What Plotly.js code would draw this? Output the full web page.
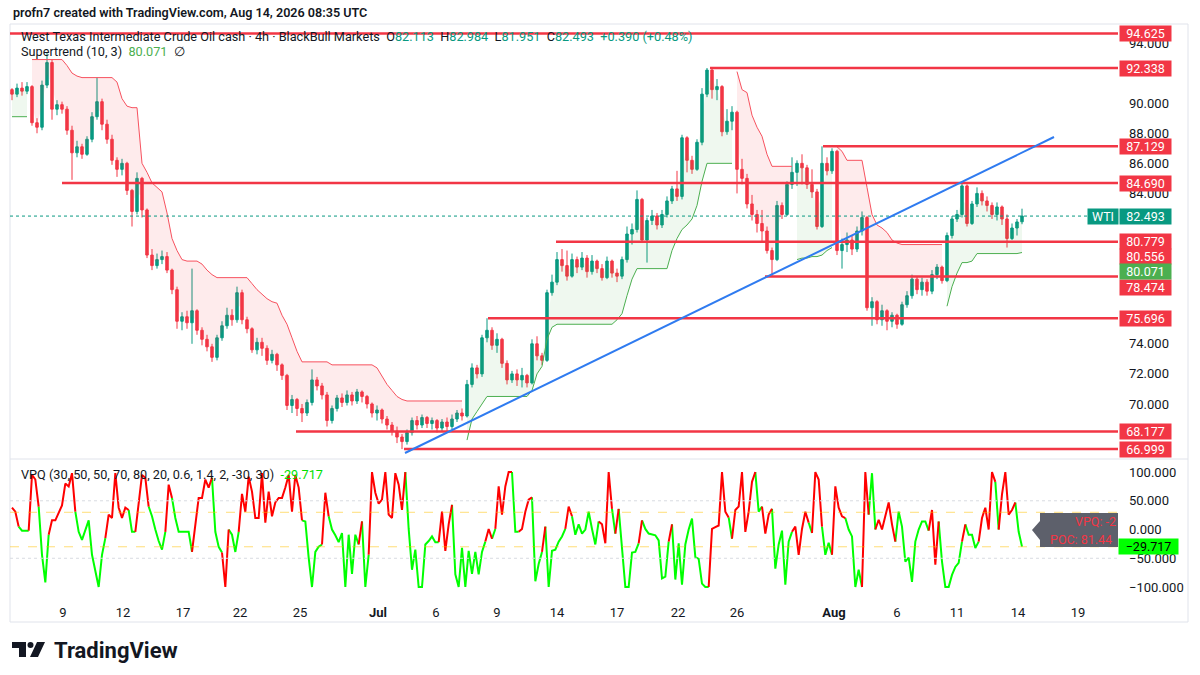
<!DOCTYPE html>
<html>
<head>
<meta charset="utf-8">
<script src="https://cdn.plot.ly/plotly-3.0.1.min.js"></script>
<style>
html, body { margin: 0; padding: 0; background: #fff; }
#chart { width: 1200px; height: 675px; }
</style>
</head>
<body>
<div id="chart"></div>
<script>
// WTI cash, 4h bars, Jun 8 -> Aug 14
const firstOpen = 90.9;
const lastBarOpen = 82.113;
const closes = [
  90.6, 91.0, 90.8, 91.1, 88.7, 88.4, 91.2, 92.7, 89.6, 89.9,
  89.6, 88.2, 86.7, 87.1, 86.6, 87.6, 89.1, 90.1, 88.6, 87.6,
  86.2, 85.6, 86.0, 84.2, 82.8, 85.0, 82.9, 79.9, 79.2, 79.6,
  79.8, 78.9, 77.6, 75.5, 75.8, 75.4, 76.2, 74.9, 74.3, 73.8,
  73.1, 74.4, 75.2, 75.9, 75.6, 77.4, 75.6, 75.0, 73.6, 74.1,
  73.7, 72.9, 73.3, 72.6, 71.9, 69.9, 70.3, 69.7, 69.4, 70.1,
  71.6, 71.2, 70.6, 68.9, 69.7, 70.4, 70.1, 70.6, 70.2, 70.8,
  70.5, 70.0, 69.4, 69.6, 69.0, 68.6, 68.2, 67.8, 67.5, 68.1,
  68.9, 68.6, 69.1, 68.7, 68.9, 68.4, 68.8, 68.5, 69.0, 69.4,
  69.2, 71.3, 72.4, 72.0, 74.4, 74.9, 73.9, 74.3, 72.7, 71.6,
  72.0, 71.6, 71.9, 71.4, 74.0, 73.2, 72.9, 77.4, 78.1, 79.6,
  79.2, 78.5, 79.6, 79.1, 79.7, 78.8, 79.5, 79.0, 78.4, 79.5,
  78.7, 78.5, 79.6, 81.3, 81.6, 83.6, 80.9, 82.2, 82.5, 81.9,
  82.6, 83.5, 84.3, 83.8, 87.7, 86.2, 85.6, 87.4, 90.6, 92.2,
  90.9, 91.1, 88.1, 88.8, 89.4, 85.6, 85.0, 83.3, 82.6, 82.0,
  81.5, 80.2, 79.6, 83.2, 82.6, 84.6, 85.4, 86.0, 85.7, 84.6,
  84.1, 81.8, 86.0, 85.5, 86.8, 80.2, 80.6, 80.9, 80.3, 81.5,
  82.4, 76.4, 76.8, 75.6, 76.2, 75.5, 75.9, 75.3, 76.6, 77.2,
  78.3, 77.6, 78.1, 77.5, 78.6, 79.1, 78.2, 81.2, 82.3, 82.6,
  84.5, 82.0, 83.3, 84.0, 83.5, 83.2, 82.6, 83.1, 82.3, 81.0,
  81.7, 82.103, 82.493
];
const highs = [
  91.0, 91.3, 91.4, 91.4, 91.2, 89.0, 91.5, 93.4, 92.9, 90.2,
  90.1, 89.8, 88.5, 87.5, 87.3, 87.8, 89.4, 91.7, 90.3, 88.9,
  87.9, 86.4, 86.3, 86.1, 84.3, 85.4, 85.1, 83.0, 80.3, 80.0,
  80.2, 80.1, 79.0, 77.8, 76.1, 76.2, 79.0, 76.3, 75.1, 74.6,
  74.0, 74.6, 75.5, 76.4, 76.3, 77.8, 77.6, 75.8, 75.1, 74.4,
  74.4, 73.9, 73.6, 73.4, 72.7, 72.0, 70.6, 70.4, 70.0, 70.3,
  72.3, 71.8, 71.4, 70.8, 69.9, 70.6, 70.7, 70.9, 70.8, 71.0,
  70.9, 70.6, 70.1, 69.9, 69.7, 69.2, 68.8, 68.5, 68.0, 68.3,
  69.1, 69.2, 69.3, 69.2, 69.1, 69.0, 69.0, 69.1, 69.3, 69.6,
  69.7, 71.6, 72.7, 72.6, 74.6, 75.7, 75.1, 74.7, 74.4, 72.9,
  72.2, 72.3, 72.4, 72.0, 74.3, 74.5, 73.4, 77.6, 78.6, 80.1,
  80.3, 80.2, 80.0, 79.8, 80.1, 79.9, 79.9, 79.6, 79.3, 79.8,
  79.6, 79.0, 79.8, 81.8, 82.0, 84.2, 83.7, 82.4, 82.9, 82.7,
  82.9, 83.8, 84.5, 85.5, 87.9, 87.8, 86.5, 87.6, 91.0, 92.338,
  92.3, 91.6, 91.2, 89.6, 89.8, 89.5, 86.3, 85.3, 83.9, 82.9,
  82.9, 81.8, 80.4, 83.5, 83.4, 84.8, 86.4, 86.2, 86.6, 85.9,
  85.6, 84.3, 87.129, 86.4, 87.0, 86.9, 81.0, 81.4, 81.2, 81.8,
  82.8, 82.5, 77.1, 76.9, 76.6, 76.3, 76.1, 76.0, 76.8, 77.5,
  78.6, 78.5, 78.4, 78.3, 78.9, 79.3, 79.2, 81.4, 82.5, 82.9,
  84.69, 84.6, 83.5, 84.4, 84.2, 83.8, 83.4, 83.4, 83.2, 82.6,
  82.0, 82.3, 82.984
];
const lows = [
  90.2, 90.4, 90.5, 90.6, 88.5, 88.0, 88.2, 91.0, 88.9, 89.2,
  89.3, 87.9, 84.9, 86.4, 86.3, 86.5, 87.4, 88.9, 88.2, 87.3,
  85.9, 85.1, 85.2, 83.9, 81.8, 82.6, 82.4, 79.7, 78.9, 79.0,
  79.3, 78.7, 77.3, 75.0, 74.9, 75.0, 74.0, 74.6, 73.9, 73.5,
  72.8, 72.9, 74.2, 75.0, 75.2, 75.4, 75.3, 74.7, 73.4, 73.3,
  73.2, 72.6, 72.7, 72.2, 71.6, 69.6, 69.4, 69.2, 68.8, 69.2,
  69.9, 70.9, 70.3, 68.5, 68.7, 69.5, 69.8, 69.9, 69.9, 70.0,
  70.1, 69.7, 69.1, 68.9, 68.7, 68.3, 67.9, 67.4, 66.999, 67.3,
  67.9, 68.3, 68.4, 68.4, 68.3, 68.1, 68.2, 68.2, 68.3, 68.8,
  68.9, 69.1, 71.1, 71.7, 71.8, 74.1, 73.6, 73.4, 72.4, 71.3,
  71.4, 71.2, 71.1, 71.1, 71.3, 72.9, 72.6, 72.8, 77.2, 77.9,
  78.8, 78.2, 78.4, 78.7, 78.9, 78.4, 78.6, 78.7, 78.2, 78.3,
  78.4, 78.1, 78.3, 79.4, 80.6, 81.4, 80.7, 79.4, 81.9, 81.6,
  81.7, 82.4, 83.3, 83.5, 83.6, 85.4, 85.3, 85.5, 87.2, 90.4,
  90.3, 90.2, 87.8, 87.9, 88.2, 84.0, 84.6, 83.0, 82.2, 81.4,
  80.8, 80.0, 78.474, 79.5, 82.3, 82.5, 84.3, 84.5, 84.6, 84.3,
  83.7, 81.6, 81.7, 85.2, 85.3, 79.9, 79.0, 80.1, 79.9, 80.1,
  81.2, 76.2, 75.2, 75.3, 75.2, 74.9, 75.1, 75.0, 75.2, 76.4,
  77.0, 77.3, 77.2, 77.2, 77.3, 78.3, 78.0, 78.1, 81.0, 82.1,
  82.4, 81.8, 81.9, 83.1, 83.2, 82.8, 82.3, 82.2, 81.9, 80.4,
  80.9, 81.2, 81.951
];

// Supertrend (10, 3) line, one value per bar
const stLevel = [
  89.1, 89.1, 89.1, 89.1, 92.9, 92.9, 92.9, 92.9, 92.9, 92.9,
  92.9, 92.5, 92.0, 91.8, 91.7, 91.7, 91.7, 91.7, 91.7, 91.7,
  91.7, 91.4, 90.3, 89.8, 89.7, 89.7, 86.0, 85.4, 84.7, 84.4,
  84.1, 82.7, 81.0, 80.2, 79.6, 79.5, 79.5, 79.5, 79.3, 78.9,
  78.6, 78.4, 78.4, 78.4, 78.4, 78.4, 78.4, 78.4, 78.0, 77.6,
  77.3, 77.0, 76.8, 76.7, 75.9, 75.3, 74.4, 73.5, 72.8, 72.8,
  72.8, 72.8, 72.8, 72.8, 72.6, 72.6, 72.6, 72.6, 72.6, 72.6,
  72.6, 72.6, 72.6, 72.4, 71.8, 71.3, 70.9, 70.5, 70.3, 70.2,
  70.2, 70.2, 70.2, 70.2, 70.2, 70.2, 70.2, 70.2, 70.2, 70.2,
  70.2, 67.6, 69.0, 69.5, 70.0, 70.5, 70.5, 70.5, 70.5, 70.5,
  70.5, 70.5, 70.5, 70.5, 70.9, 72.0, 72.5, 74.3, 75.1, 75.3,
  75.3, 75.3, 75.3, 75.3, 75.3, 75.3, 75.3, 75.3, 75.3, 75.3,
  75.3, 75.6, 76.0, 77.2, 78.3, 79.0, 79.0, 79.0, 79.0, 79.0,
  79.0, 79.0, 80.2, 81.0, 81.6, 81.9, 82.3, 83.2, 84.8, 86.0,
  86.0, 86.0, 86.0, 86.0, 86.0, 92.1, 90.9, 90.7, 89.2, 88.4,
  87.8, 86.6, 85.8, 85.8, 85.8, 85.8, 85.8, 79.6, 79.7, 79.7,
  79.8, 79.8, 79.9, 80.2, 80.4, 87.1, 86.8, 86.2, 86.2, 86.2,
  86.2, 84.4, 82.6, 81.9, 81.7, 81.4, 80.9, 80.7, 80.6, 80.6,
  80.6, 80.6, 80.6, 80.6, 80.6, 80.6, 80.6, 76.5, 77.8, 78.7,
  79.4, 79.4, 79.5, 80.0, 80.0, 80.0, 80.0, 80.0, 80.0, 80.0,
  80.0, 80.0, 80.071
];
// bars where the trend flips, first run is an up-trend
const stFlips = [0, 4, 91, 145, 157, 165, 187];

// VPQ oscillator, sampled on the finer 4h grid
const vpq = [
  38, 31, 5, -2, -2, -2, 95, 87, 40, -44,
  -92, -9, 16, 16, 30, 42, 80, 75, 98, 31,
  -4, -18, 0, 16, -44, -72, -100, -44, -15, 26,
  20, 98, 38, 20, 38, 34, -4, -4, 45, 95,
  90, 40, 23, 0, -20, -35, -4, 78, 55, 20,
  -4, -4, -4, -4, -39, 10, 55, 55, 87, 73,
  90, -4, -30, -40, -100, 0, -9, -39, -4, 62,
  31, 92, 66, 20, 20, 98, 12, 66, 23, 47,
  55, 55, 73, 95, 31, 95, 73, 16, 14, -49,
  -100, -39, -30, -26, 64, 23, 0, -10, -22, -6,
  -100, -9, -77, -9, -26, 14, -100, -44, 100, 64,
  45, 52, 100, 26, 20, 98, 78, 34, 100, 1,
  -70, -35, -100, -100, -26, -20, -12, -22, -22, 31,
  -37, 9, 43, -78, -100, -32, -100, -37, -77, -39,
  -78, -39, -21, 1, -16, 1, 75, 26, 75, 100,
  100, -4, -4, 1, 31, 52, 56, -90, -60, -39,
  5, -100, -37, -35, -21, -12, 1, 40, 23, -9,
  9, -7, 0, 31, 1, -26, 14, 9, -24, 100,
  36, -7, 36, -39, -100, -100, -40, -39, -24, 16,
  1, -7, -9, -10, -19, -85, -82, -21, 9, -87,
  -24, -96, -26, 0, 19, -48, -51, -94, -100, -100,
  1, 4, 7, 100, 31, 21, -16, 34, 40, 100,
  -4, 31, 83, 100, 31, 40, -7, 26, 36, -68,
  -26, -2, -96, -21, -4, 5, -44, 1, 31, 12,
  -6, 100, 87, 5, -44, -23, -44, 75, 38, 23,
  20, 0, -12, -100, -70, -100, 100, 26, 98, 0,
  17, 0, 25, 47, 9, -21, 31, 5, -56, -49,
  -91, -21, 0, 14, 14, -2, 34, -61, 14, -56,
  -100, -100, -79, -65, -58, -21, 9, -9, -9, -32,
  -21, 20, 38, 0, 100, 83, 0, 61, 100, 26,
  34, 47, -4, -29.717
];
// colour of each VPQ segment as runs: [count, 'r' | 'g']
const vpqColorRuns = [
  [2,'r'],[3,'g'],[3,'r'],[3,'g'],[8,'r'],[9,'g'],[7,'r'],[2,'g'],[4,'r'],[5,'g'],
  [2,'r'],[6,'g'],[6,'r'],[3,'g'],[2,'r'],[3,'g'],[19,'r'],[6,'g'],[2,'r'],[9,'g'],
  [1,'r'],[2,'g'],[11,'r'],[10,'g'],[4,'r'],[10,'g'],[2,'r'],[1,'g'],[5,'r'],[2,'g'],
  [4,'r'],[3,'g'],[1,'r'],[6,'g'],[2,'r'],[8,'g'],[4,'r'],[1,'g'],[1,'r'],[6,'g'],
  [1,'r'],[8,'g'],[1,'r'],[11,'g'],[6,'r'],[1,'g'],[7,'r'],[2,'g'],[3,'r'],[6,'g'],
  [5,'r'],[1,'g'],[3,'r'],[3,'g'],[4,'r'],[5,'g'],[2,'r'],[2,'g'],[6,'r'],[10,'g'],
  [3,'r'],[7,'g'],[1,'r'],[4,'g'],[5,'r'],[1,'g'],[5,'r'],[2,'g']
];

// drawn horizontal rays and the trend line
const levelPrices = [94.625, 92.338, 87.129, 84.690, 80.779, 78.474, 75.696, 68.177, 66.999];
const levelStartBar = [-0.4, 139.6, 162.2, 10, 108.8, 150.6, 95.2, 56.8, 78.4];
const extraLabel = 80.556;
const trendBars = [78.6, 208.4];
const trendPrices = [66.74, 87.75];

// price ticks that are not covered by the label boxes
const priceTicks = [70, 72, 74, 84, 86, 88, 90, 94];

// time axis
const tickBars = [10.2, 22.2, 34.2, 45.6, 57.6, 73.2, 84.8, 97, 109, 121, 133.2, 145, 164.4, 177, 189, 201.2, 213.2];
const tickText = ['9', '12', '17', '22', '25', '<b>Jul</b>', '6', '9', '14', '17', '22', '26', '<b>Aug</b>', '6', '11', '14', '19'];

// ---------------------------------------------------------------
const FONT = 'Roboto, "Noto Sans", sans-serif';
const UP = '#089981', DOWN = '#f23645';
const N = closes.length;
const X_START = -0.4, X_END = 221.2;

// pixel -> paper helpers (plot area is x 10..1118, y 25..598)
const px = x => (x - 10) / 1108;
const py = y => (598 - y) / 573;
const pathOf = pts => pts.map((p, k) => (k ? 'L' : 'M') + px(p[0]).toFixed(5) + ',' + py(p[1]).toFixed(5)).join(' ') + ' Z';

const bars = closes.map((c, i) => i);
const opens = [firstOpen].concat(closes.slice(0, -1));
opens[N - 1] = lastBarOpen;
const bodyMid = closes.map((c, i) => (c + opens[i]) / 2);

const traces = [];

// supertrend: fill between body middle and the trend line, one pair per run
stFlips.forEach((start, k) => {
  const end = k + 1 < stFlips.length ? stFlips[k + 1] - 1 : N - 1;
  const up = k % 2 === 0;
  const xs = [], mid = [], st = [];
  for (let i = start; i <= end; i++) {
    xs.push(i); mid.push(bodyMid[i]); st.push(stLevel[i]);
  }
  traces.push({
    type: 'scatter', mode: 'lines', x: xs, y: mid,
    line: {width: 0, color: 'rgba(0,0,0,0)'}, hoverinfo: 'skip'
  });
  traces.push({
    type: 'scatter', mode: 'lines', x: xs, y: st, fill: 'tonexty',
    fillcolor: up ? 'rgba(76,175,80,0.09)' : 'rgba(242,54,69,0.10)',
    line: {color: up ? '#4caf50' : '#f7525f', width: 1}, hoverinfo: 'skip'
  });
});

traces.push({
  type: 'candlestick', x: bars, open: opens, high: highs, low: lows, close: closes,
  increasing: {line: {color: UP, width: 1}, fillcolor: UP},
  decreasing: {line: {color: DOWN, width: 1}, fillcolor: DOWN},
  whiskerwidth: 0, hoverinfo: 'skip'
});

// VPQ: split the line into red and green pieces
const segColor = [];
vpqColorRuns.forEach(([n, c]) => { for (let k = 0; k < n; k++) segColor.push(c); });
const vpqStep = (N - 1) / (vpq.length - 1);
function vpqTrace(c, color) {
  const xs = [], ys = [];
  let last = -2;
  segColor.forEach((s, j) => {
    if (s !== c) return;
    if (last !== j) {
      if (xs.length) { xs.push(null); ys.push(null); }
      xs.push(j * vpqStep); ys.push(vpq[j]);
    }
    xs.push((j + 1) * vpqStep); ys.push(vpq[j + 1]);
    last = j + 1;
  });
  return {
    type: 'scatter', mode: 'lines', x: xs, y: ys, yaxis: 'y2',
    line: {color: color, width: 2}, connectgaps: false, hoverinfo: 'skip'
  };
}
traces.push(vpqTrace('g', '#00ff00'));
traces.push(vpqTrace('r', '#ff0000'));

// ---------------------------------------------------------------
const shapes = [];
// chart frame and pane separator
shapes.push({type: 'rect', xref: 'paper', yref: 'paper', x0: px(10), x1: px(1188), y0: py(24), y1: py(622),
  line: {color: '#e0e3eb', width: 1}, layer: 'below'});
shapes.push({type: 'line', xref: 'paper', yref: 'paper', x0: px(10), x1: px(1188), y0: py(459), y1: py(459),
  line: {color: '#e0e3eb', width: 1}});

// last price line
shapes.push({type: 'line', xref: 'paper', yref: 'y', x0: 0, x1: 1, y0: closes[N - 1], y1: closes[N - 1],
  line: {color: '#089981', width: 1, dash: 'dot'}});

levelPrices.forEach((p, k) => {
  shapes.push({type: 'line', xref: 'x', yref: 'y', x0: levelStartBar[k], x1: X_END, y0: p, y1: p,
    line: {color: '#f23645', width: 2.5}, layer: 'above'});
});
shapes.push({type: 'line', xref: 'x', yref: 'y', x0: trendBars[0], x1: trendBars[1], y0: trendPrices[0], y1: trendPrices[1],
  line: {color: '#2f7bf0', width: 2}, layer: 'above'});

// VPQ guide lines
[30, -30].forEach(v => shapes.push({type: 'line', xref: 'paper', yref: 'y2', x0: 0, x1: 1, y0: v, y1: v,
  line: {color: 'rgba(255,193,7,0.55)', width: 1, dash: 'dash'}}));
[50, -50].forEach(v => shapes.push({type: 'line', xref: 'paper', yref: 'y2', x0: 0, x1: 1, y0: v, y1: v,
  line: {color: '#d9dbe1', width: 1, dash: 'dot'}}));

// VPQ data-window bubble
shapes.push({type: 'path', xref: 'paper', yref: 'paper',
  path: pathOf([[1040, 513], [1118, 513], [1118, 547], [1040, 547], [1040, 540], [1032, 530], [1040, 521]]),
  fillcolor: '#5d606b', line: {width: 0}});

// TradingView mark
shapes.push({type: 'path', xref: 'paper', yref: 'paper',
  path: pathOf([[12, 642], [26, 642], [26, 657], [19, 657], [19, 648], [12, 648]]),
  fillcolor: '#131722', line: {width: 0}});
shapes.push({type: 'circle', xref: 'paper', yref: 'paper', x0: px(27.5), x1: px(33.5), y0: py(642), y1: py(648),
  fillcolor: '#131722', line: {width: 0}});
shapes.push({type: 'path', xref: 'paper', yref: 'paper',
  path: pathOf([[37, 642], [45, 642], [38, 657], [30, 657]]),
  fillcolor: '#131722', line: {width: 0}});

// ---------------------------------------------------------------
const ann = [];
function text(x, y, t, size, extra) {
  ann.push(Object.assign({
    xref: 'paper', yref: 'paper', x: px(x), y: py(y), text: t, showarrow: false,
    xanchor: 'left', yanchor: 'middle',
    font: {family: FONT, size: size, color: '#131722'}
  }, extra || {}));
}
const teal = s => '<span style="color:#089981">' + s + '</span>';
const sp = '\u00a0\u00a0';
const last = N - 1;
const chg = closes[last] - closes[last - 1];

text(11, 13, 'profn7 created with TradingView.com, Aug 14, 2026 08:35 UTC', 12.6, {font: {family: FONT, size: 12.6, color: '#131722', weight: 600}});
text(19, 36, 'West Texas Intermediate Crude Oil cash · 4h · BlackBull Markets' + sp +
  'O' + teal(opens[last].toFixed(3)) + sp + 'H' + teal(highs[last].toFixed(3)) + sp +
  'L' + teal(lows[last].toFixed(3)) + sp + 'C' + teal(closes[last].toFixed(3)) + sp +
  teal('+' + chg.toFixed(3) + ' (+' + (chg / closes[last - 1] * 100).toFixed(2) + '%)'), 12.7);
text(19, 51, 'Supertrend (10, 3)' + sp + '<span style="color:#4caf50">' + stLevel[last].toFixed(3) + '</span>' + sp + '∅', 12.7);
text(19, 474, 'VPQ (30, 50, 50, 70, 80, 20, 0.6, 1.4, 2, -30, 30)' + sp +
  '<span style="color:#00e000">' + vpq[vpq.length - 1].toFixed(3) + '</span>', 12.7);

// price-scale labels
function priceLabel(p, bg, shift, fg) {
  ann.push({
    xref: 'paper', yref: 'y', x: px(1119), y: p, yshift: shift || 0,
    xanchor: 'left', yanchor: 'middle', showarrow: false,
    text: p.toFixed(3), bgcolor: bg, borderpad: 1, width: 49, height: 13, align: 'center',
    font: {family: FONT, size: 12.5, color: fg || '#ffffff'}
  });
}
const labelShift = {'80.556': -11.7, '80.071': -19.4, '78.474': -10.9};
levelPrices.concat([extraLabel]).forEach(p => priceLabel(p, '#f23645', labelShift[p.toFixed(3)]));
priceLabel(stLevel[last], '#4caf50', labelShift[stLevel[last].toFixed(3)]);
priceLabel(closes[last], '#089981');
ann.push({
  xref: 'paper', yref: 'y', x: px(1087), y: closes[last], xanchor: 'left', yanchor: 'middle', showarrow: false,
  text: 'WTI', bgcolor: '#089981', borderpad: 1, width: 28, height: 13, align: 'center',
  font: {family: FONT, size: 12.5, color: '#ffffff'}
});
ann.push({
  xref: 'paper', yref: 'y2', x: px(1118), y: vpq[vpq.length - 1], xanchor: 'left', yanchor: 'middle', showarrow: false,
  text: '\u2212' + Math.abs(vpq[vpq.length - 1]).toFixed(3), bgcolor: '#00ff00', borderpad: 1, width: 57, height: 13,
  align: 'center', font: {family: FONT, size: 12.5, color: '#000000'}
});
// bubble text
text(1118, 521, 'VPQ: -2', 12.5, {xanchor: 'right', font: {family: FONT, size: 12.5, color: '#f23645'}});
text(1048, 539, 'POC: 81.44', 12.5, {font: {family: FONT, size: 12.5, color: '#f23645'}});

// logo word
text(52, 650, 'TradingView', 22, {font: {family: FONT, size: 22, color: '#131722', weight: 700}});

const layout = {
  width: 1200, height: 675,
  margin: {l: 10, r: 82, t: 25, b: 77, pad: 0},
  paper_bgcolor: '#ffffff', plot_bgcolor: '#ffffff',
  showlegend: false,
  font: {family: FONT, size: 12.5, color: '#131722'},
  xaxis: {
    range: [X_START, X_END], anchor: 'y2', showgrid: false, zeroline: false, showline: false,
    tickmode: 'array', tickvals: tickBars, ticktext: tickText, ticks: '', ticklabelstandoff: 5,
    tickfont: {family: FONT, size: 13, color: '#131722'},
    rangeslider: {visible: false}, fixedrange: true
  },
  yaxis: {
    domain: [0.2443, 1], range: [66.407, 95.197], side: 'right', anchor: 'x',
    tickmode: 'array', tickvals: priceTicks, tickformat: '.3f', showgrid: false, zeroline: false, showline: false,
    ticks: '', ticklabelstandoff: 10, tickfont: {family: FONT, size: 13, color: '#131722'}
  },
  yaxis2: {
    domain: [0, 0.2408], range: [-119.1, 120.9], side: 'right', anchor: 'x',
    tickmode: 'array', tickvals: [-100, -50, 0, 50, 100], tickformat: '.3f',
    showgrid: false, zeroline: false, showline: false,
    ticks: '', ticklabelstandoff: 10, tickfont: {family: FONT, size: 13, color: '#131722'}
  },
  shapes: shapes,
  annotations: ann
};

Plotly.newPlot('chart', traces, layout, {displayModeBar: false, staticPlot: true});
</script>
</body>
</html>
